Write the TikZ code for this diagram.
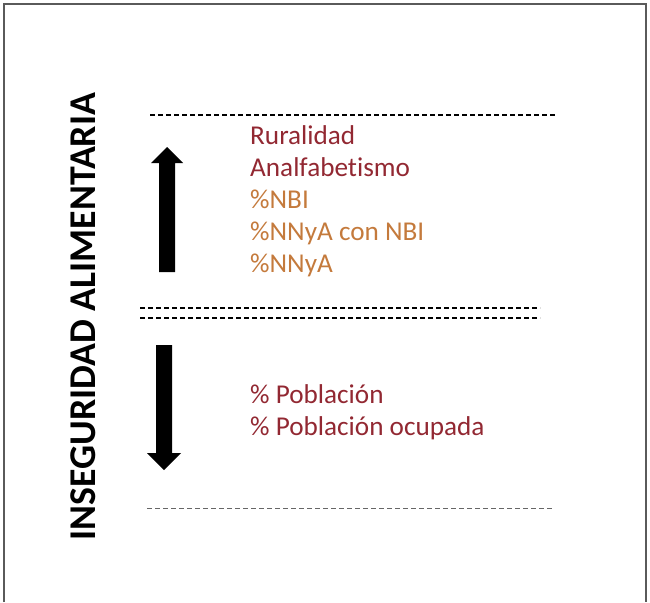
\documentclass[tikz,border=0pt]{standalone}
\usepackage{fontspec}
\setmainfont{Carlito}[Ligatures={NoCommon}]
\definecolor{redtxt}{RGB}{146,40,50}
\definecolor{orangetxt}{RGB}{196,122,60}
\definecolor{framegray}{RGB}{90,90,90}
\begin{document}
\begin{tikzpicture}[x=1pt,y=-1pt,
  dashline/.style={dash pattern=on 5pt off 3pt, line width=1.1pt, black},
  lightdash/.style={dash pattern=on 5pt off 3pt, line width=0.9pt, black!60},
  item/.style={anchor=base west, inner sep=0pt, font=\fontsize{27.2}{32}\selectfont},
  bigarrow/.style={fill=black, draw=none}]
\useasboundingbox (0,0) rectangle (650,602);
% frame (bottom edge cut off)
\draw[framegray, line width=1.4pt] (4,602) -- (4,4) -- (646,4) -- (646,602);
% vertical title
\node[rotate=90, anchor=base, inner sep=0pt, font=\fontsize{37.8}{40}\bfseries\selectfont] (title) at (95,316.5) {INSEGURIDAD ALIMENTARIA};
% dashed separators
\draw[dashline] (150,115) -- (557,115);
\draw[dashline] (140,308) -- (540,308);
\draw[dashline] (140,318) -- (540,318);
\draw[lightdash] (147,508) -- (552,508);
% arrows
\fill[bigarrow] (159,272) -- (159,163) -- (151,163) -- (167,147) -- (183,163) -- (175,163) -- (175,272) -- cycle;
\fill[bigarrow] (156,345) -- (156,453) -- (147,453) -- (164,470) -- (181,453) -- (172,453) -- (172,345) -- cycle;
% upper list
\node[item, text=redtxt] (rur) at (250,144) {Ruralidad};
\node[item, text=redtxt] (ana) at (250,176) {Analfabetismo};
\node[item, text=orangetxt] (nbi) at (250,208) {\%NBI};
\node[item, text=orangetxt] (nnyanbi) at (250,240) {\%NNyA con NBI};
\node[item, text=orangetxt] (nnya) at (250,272) {\%NNyA};
% lower list
\node[item, text=redtxt] (pob) at (250,403) {\% Población};
\node[item, text=redtxt] (pobocc) at (250,435) {\% Población ocupada};
\end{tikzpicture}
\end{document}
